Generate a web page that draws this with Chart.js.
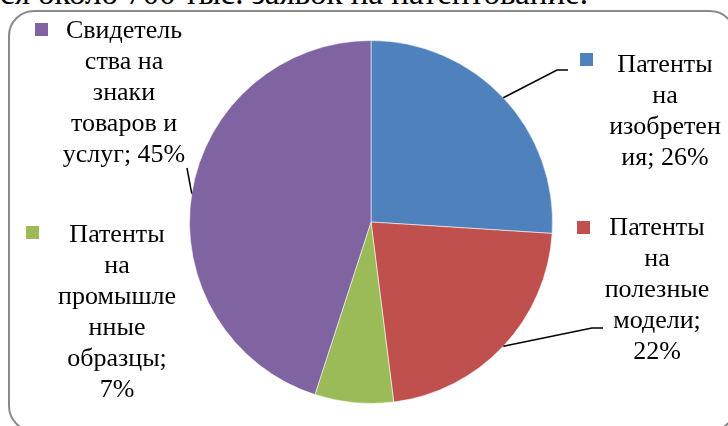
<!DOCTYPE html>
<html>
<head>
<meta charset="utf-8">
<script src="https://cdn.jsdelivr.net/npm/chart.js@4.4.1/dist/chart.umd.min.js"></script>
<style>
  html, body { margin: 0; padding: 0; background: #fff; }
  #wrap { position: relative; width: 728px; height: 426px; overflow: hidden; }
  #intro {
    position: absolute; left: 0; top: -26px; white-space: nowrap; line-height: 38px;
    font-family: 'Liberation Serif', 'Times New Roman', serif; font-size: 33px; color: #000;
  }
  #frame {
    position: absolute; left: 8px; top: 10px; width: 724px; height: 418px;
    border: 2px solid #8a8a8a; border-radius: 26px;
  }
  #pie { position: absolute; left: 0; top: 0; }
</style>
</head>
<body>
<div id="wrap">
  <div id="intro">ся около 700 тыс. заявок на патентование.</div>
  <div id="frame"></div>
  <canvas id="pie" width="728" height="426"></canvas>
</div>
<script>
const categories = [
    'Патенты на изобретения',
    'Патенты на полезные модели',
    'Патенты на промышленные образцы',
    'Свидетельства на знаки товаров и услуг'
];
const values = [26, 22, 7, 45];
const colors = ['#4F81BD', '#C0504D', '#9BBB59', '#8064A2'];

// how each data label wraps, {p} gets the percent
const labelLines = [
    ['Патенты', 'на', 'изобретен', 'ия; {p}'],
    ['Патенты', 'на', 'полезные', 'модели;', '{p}'],
    ['Патенты', 'на', 'промышле', 'нные', 'образцы;', '{p}'],
    ['Свидетель', 'ства на', 'знаки', 'товаров и', 'услуг; {p}']
];

// where the label blocks sit and where their leader lines bend
const labelBoxes = [
    { cx: 665, y: 65, sq: [580, 53], leader: [[557, 70], [568, 70]] },
    { cx: 657, y: 228, sq: [577, 221], leader: [[592, 328], [603, 328]] },
    { cx: 117, y: 235, sq: [26, 226], leader: null },
    { cx: 124, y: 31, sq: [35, 23], leader: [[187, 168]] }
];
const labelFont = '26px "Times New Roman", "Liberation Serif", serif';

const pieLabels = {
    id: 'pieLabels',
    afterDraw(chart) {
        const ctx = chart.ctx;
        const arcs = chart.getDatasetMeta(0).data;
        ctx.save();
        arcs.forEach((arc, i) => {
            const box = labelBoxes[i];
            const mid = (arc.startAngle + arc.endAngle) / 2;
            if (box.leader) {
                ctx.beginPath();
                ctx.moveTo(arc.x + Math.cos(mid) * arc.outerRadius, arc.y + Math.sin(mid) * arc.outerRadius);
                box.leader.forEach(p => ctx.lineTo(p[0], p[1]));
                ctx.strokeStyle = '#000';
                ctx.lineWidth = 1.5;
                ctx.stroke();
            }
            ctx.fillStyle = colors[i];
            ctx.fillRect(box.sq[0], box.sq[1], 13, 13);

            ctx.fillStyle = '#000';
            ctx.font = labelFont;
            ctx.textAlign = 'center';
            ctx.textBaseline = 'middle';
            labelLines[i].forEach((line, k) => {
                const txt = line.replace('{p}', values[i] + '%');
                ctx.fillText(txt, box.cx, box.y + k * 31);
            });
        });
        ctx.restore();
    }
};

function drawPie() {
    new Chart(document.getElementById('pie').getContext('2d'), {
        type: 'pie',
        data: {
            labels: categories,
            datasets: [{
                data: values,
                backgroundColor: colors,
                borderColor: 'rgba(255,255,255,0.55)',
                borderWidth: 1
            }]
        },
        options: {
            responsive: false,
            animation: false,
            layout: { padding: { left: 189, right: 175, top: 40, bottom: 22 } },
            plugins: {
                legend: { display: false },
                tooltip: { enabled: false }
            }
        },
        plugins: [pieLabels]
    });
}

document.fonts.load(labelFont, 'Патенты').then(drawPie, drawPie);
</script>
</body>
</html>
